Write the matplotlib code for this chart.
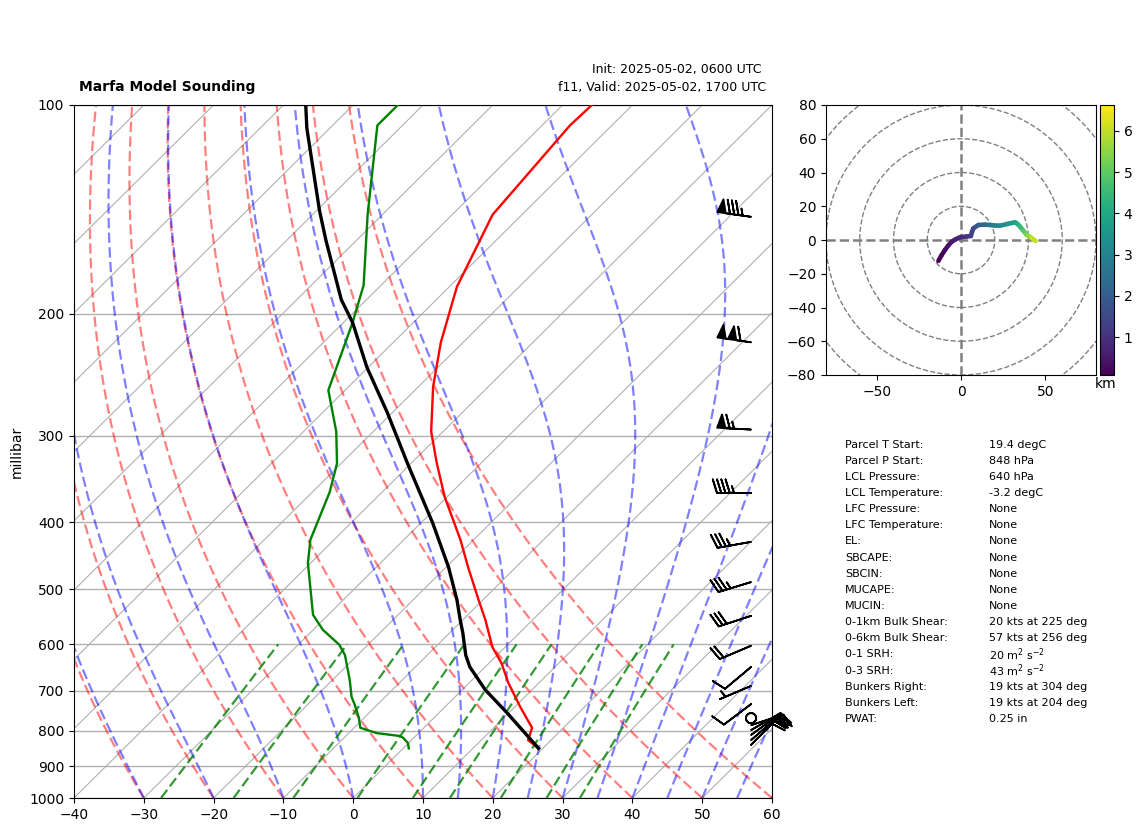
import numpy as np
import matplotlib
matplotlib.use('Agg')
import matplotlib.pyplot as plt
from matplotlib.collections import LineCollection
from matplotlib.patches import Circle
from matplotlib.ticker import NullLocator, ScalarFormatter
from matplotlib.transforms import blended_transform_factory

# profiles (hPa, degC)
temp_p = [848, 825, 792, 739, 682, 639, 606, 553, 518, 464, 424, 368, 329, 296, 255, 220, 183, 144, 107, 100]
temp_t = [19.4, 16.7, 15.5, 10.8, 5.6, 1.8, -1.8, -6.8, -10.6, -16.9, -21.9, -30.3, -36.3, -41.7, -47.9, -53.2, -58.9, -64.2, -66.0, -65.8]

parcel_p = [848, 754, 698, 647, 622, 578, 553, 518, 464, 401, 329, 278, 239, 206, 191, 157, 142, 108, 100]
parcel_t = [19.4, 9.8, 3.3, -2.2, -4.5, -8.1, -10.4, -13.7, -19.7, -28.3, -40.5, -50.7, -60.2, -68.7, -73.6, -84.3, -89.6, -103.3, -106.8]

dew_p = [848, 833, 819, 814, 806, 792, 767, 734, 715, 676, 622, 601, 572, 544, 458, 424, 362, 329, 296, 258, 206, 182, 144, 107, 100]
dew_t = [0.8, -0.1, -1.5, -2.2, -6.0, -9.1, -10.7, -13.2, -14.8, -17.5, -21.8, -24.1, -28.6, -32.2, -40.4, -43.4, -47.5, -50.6, -55.3, -62.4, -68.7, -72.5, -82.1, -93.6, -93.6]

# wind barbs: pressure, speed (kt), direction (deg)
barb_p = [145, 220, 294, 363, 427, 488, 546, 603, 647, 689, 732, 767, 785, 798, 811, 825, 838]
barb_spd = [85, 110, 65, 45, 35, 35, 30, 20, 10, 5, 10, 0, 20, 20, 20, 20, 20]
barb_dir = [278, 278, 273, 270, 260, 253, 252, 247, 230, 247, 233, 0, 72, 60, 54, 49, 45]

# hodograph
hodo_u = [-13.4, -11.5, -9.5, -7.5, -5.5, -3, -0.6, 3, 5.9, 6.5, 7.3, 10.3, 14, 17.2, 20, 23.1, 27.5, 32, 33.5, 35, 37, 38.9, 41.5, 44.2]
hodo_v = [-12.4, -9, -5.9, -3.2, -1, 0.5, 1.6, 2, 2.4, 4.8, 6.9, 8.9, 9.1, 8.9, 8.6, 8.5, 9.5, 10.5, 9.5, 7.9, 5.5, 3, 1.5, -0.6]
hodo_h = [0.08, 0.2, 0.3, 0.42, 0.55, 0.7, 0.85, 1.05, 1.25, 1.4, 1.6, 2.1, 2.4, 2.7, 2.95, 3.2, 3.55, 3.9, 4.1, 4.5, 5.0, 5.5, 6.0, 6.63]

table_names = ['Parcel T Start:', 'Parcel P Start:', 'LCL Pressure:', 'LCL Temperature:', 'LFC Pressure:',
               'LFC Temperature:', 'EL:', 'SBCAPE:', 'SBCIN:', 'MUCAPE:', 'MUCIN:', '0-1km Bulk Shear:',
               '0-6km Bulk Shear:', '0-1 SRH:', '0-3 SRH:', 'Bunkers Right:', 'Bunkers Left:', 'PWAT:']
table_values = ['19.4 degC', '848 hPa', '640 hPa', '-3.2 degC', 'None', 'None', 'None', 'None', 'None', 'None', 'None',
                '20 kts at 225 deg', '57 kts at 256 deg', r'20 $\mathrm{m^2\ s^{-2}}$', r'43 $\mathrm{m^2\ s^{-2}}$',
                '19 kts at 304 deg', '19 kts at 204 deg', '0.25 in']

# background levels
dry_t0 = np.arange(-40, 61, 10)
moist_t0 = np.concatenate([np.arange(-40, 10, 10), np.arange(10, 61, 5)])
isotherms = np.arange(-150, 61, 10)
mixing_ratios = [0.0004, 0.001, 0.002, 0.004, 0.007, 0.01, 0.016, 0.024, 0.032]
p_levels = np.geomspace(1000, 100, 200)

SKEW = 100.0  # degC per decade of pressure
DASH = (0, (4.6, 2.0))
W, H = 1142, 832


def skew_x(t, p):
    return np.asarray(t) + SKEW * np.log10(1000.0 / np.asarray(p))


def sat_mixing(t_k, p):
    es = 6.112 * np.exp(17.67 * (t_k - 273.15) / (t_k - 29.65))
    return 0.622 * es / (p - es)


def moist_rate(t_k, p):
    rs = sat_mixing(t_k, p)
    lv, rd, cp = 2.501e6, 287.05, 1005.0
    return (rd * t_k + lv * rs) / (cp + lv ** 2 * rs * 0.622 / (rd * t_k ** 2)) / p


def moist_adiabat(t0):
    t_k = t0 + 273.15
    out = [t_k]
    for p0, p1 in zip(p_levels[:-1], p_levels[1:]):
        dp = p1 - p0
        k1 = moist_rate(t_k, p0)
        k2 = moist_rate(t_k + 0.5 * dp * k1, p0 + 0.5 * dp)
        k3 = moist_rate(t_k + 0.5 * dp * k2, p0 + 0.5 * dp)
        k4 = moist_rate(t_k + dp * k3, p1)
        t_k = t_k + dp * (k1 + 2 * k2 + 2 * k3 + k4) / 6
        out.append(t_k)
    return np.array(out) - 273.15


def axes_px(fig, left, top, right, bottom):
    return fig.add_axes([left / W, 1 - bottom / H, (right - left) / W, (bottom - top) / H])


fig = plt.figure(figsize=(W / 100, H / 100), dpi=100)

# ---- skew-T ----
ax = axes_px(fig, 74, 105, 772, 798)
ax.set_yscale('log')
ax.set_xlim(-40, 60)
ax.set_ylim(1000, 100)
ax.set_xticks(np.arange(-40, 61, 10))
ax.set_yticks(np.arange(100, 1001, 100))
ax.yaxis.set_major_formatter(ScalarFormatter())
ax.yaxis.set_minor_locator(NullLocator())
ax.set_ylabel('millibar')
ax.yaxis.set_label_coords(-0.072, 0.5)
ax.grid(True, axis='y', color='#b0b0b0', lw=1)

for t in isotherms:
    ax.plot(skew_x([t, t], [1000, 100]), [1000, 100], color='#b0b0b0', lw=0.8, zorder=1)

for t0 in dry_t0:
    dry = (t0 + 273.15) * (p_levels / 1000.0) ** 0.2857 - 273.15
    ax.plot(skew_x(dry, p_levels), p_levels, color='r', ls=DASH, lw=1.6, alpha=0.5, zorder=2)
for t0 in moist_t0:
    ax.plot(skew_x(moist_adiabat(t0), p_levels), p_levels, color='b', ls=DASH, lw=1.6, alpha=0.5, zorder=2)

p_mix = np.linspace(1000, 600, 30)
for w in mixing_ratios:
    e = np.log(p_mix * w / (0.622 + w) / 6.112)
    td = 243.5 * e / (17.67 - e)
    ax.plot(skew_x(td, p_mix), p_mix, color='g', ls=DASH, lw=1.6, alpha=0.8, zorder=2)

ax.plot(skew_x(temp_t, temp_p), temp_p, color='r', lw=1.7, zorder=3)
ax.plot(skew_x(dew_t, dew_p), dew_p, color='g', lw=1.7, zorder=3)
ax.plot(skew_x(parcel_t, parcel_p), parcel_p, color='k', lw=2.4, zorder=4)

spd = np.array(barb_spd, dtype=float)
rad = np.radians(barb_dir)
trans = blended_transform_factory(ax.transAxes, ax.transData)
ax.barbs(np.full(len(barb_p), 0.97), barb_p, -spd * np.sin(rad), -spd * np.cos(rad),
         transform=trans, clip_on=False, length=7, linewidth=1.3, zorder=5)

ax.set_title('Marfa Model Sounding', loc='left', x=0.007, fontsize=10, fontweight='bold', pad=10)
fig.text(762 / W, 1 - 70 / H, 'Init: 2025-05-02, 0600 UTC', ha='right', va='center', fontsize=9)
fig.text(766 / W, 1 - 88 / H, 'f11, Valid: 2025-05-02, 1700 UTC', ha='right', va='center', fontsize=9)

# ---- hodograph ----
hax = axes_px(fig, 826, 105, 1096, 375)
hax.set_xlim(-80, 80)
hax.set_ylim(-80, 80)
hax.set_xticks([-50, 0, 50])
hax.set_yticks(np.arange(-80, 81, 20))
for r in [20, 40, 60, 80, 100]:
    hax.add_patch(Circle((0, 0), r, fill=False, ls='--', ec='gray', lw=1))
hax.axhline(0, color='gray', ls='--', lw=1.8)
hax.axvline(0, color='gray', ls='--', lw=1.8)

pts = np.column_stack([hodo_u, hodo_v])
segs = np.stack([pts[:-1], pts[1:]], axis=1)
lc = LineCollection(segs, cmap='viridis', lw=3.3, capstyle='round')
lc.set_array(np.array(hodo_h[:-1]))
lc.set_clim(hodo_h[0], hodo_h[-1])
hax.add_collection(lc)

cax = axes_px(fig, 1100, 105, 1114, 375)
cb = fig.colorbar(lc, cax=cax)
cb.set_ticks([1, 2, 3, 4, 5, 6])
fig.text(1106 / W, 1 - 384 / H, 'km', ha='center', va='center', fontsize=10)

# ---- parcel table ----
for i, (name, value) in enumerate(zip(table_names, table_values)):
    y = 1 - (444.5 + 16.15 * i) / H
    fig.text(845 / W, y, name, fontsize=8, va='center')
    fig.text(989 / W, y, value, fontsize=8, va='center')

fig.savefig('out.png', dpi=100)
